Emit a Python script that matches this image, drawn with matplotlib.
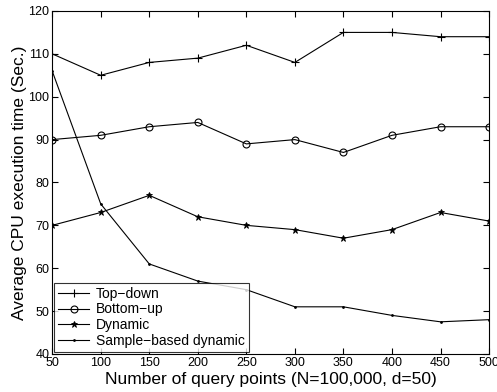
import matplotlib
matplotlib.use("Agg")
import matplotlib.pyplot as plt

x = [50, 100, 150, 200, 250, 300, 350, 400, 450, 500]
top_down = [110, 105, 108, 109, 112, 108, 115, 115, 114, 114]
bottom_up = [90, 91, 93, 94, 89, 90, 87, 91, 93, 93]
dynamic = [70, 73, 77, 72, 70, 69, 67, 69, 73, 71]
sample_dyn = [106, 75, 61, 57, 55, 51, 51, 49, 47.5, 48]

plt.rcParams['font.family'] = ['Liberation Sans', 'DejaVu Sans']

fig = plt.figure(figsize=(4.97, 3.92), dpi=100)
ax = fig.add_axes([0.105, 0.097, 0.879, 0.875])

ax.plot(x, top_down, color='black', lw=0.8, marker='+', ms=6, mew=0.8, label='Top\u2212down')
ax.plot(x, bottom_up, color='black', lw=0.8, marker='o', ms=5, mfc='none', mew=0.8, label='Bottom\u2212up')
ax.plot(x, dynamic, color='black', lw=0.8, marker='*', ms=4.5, mew=0.6, label='Dynamic')
ax.plot(x, sample_dyn, color='black', lw=0.8, marker='.', ms=2, label='Sample\u2212based dynamic')

ax.set_xlim(50, 500)
ax.set_ylim(40, 120)
ax.set_xticks(x)
ax.set_yticks(range(40, 121, 10))
ax.tick_params(direction='in', top=True, right=True, labelsize=9, length=4, width=0.8, pad=2)
for s in ax.spines.values():
    s.set_linewidth(0.8)

ax.set_xlabel('Number of query points (N=100,000, d=50)', fontsize=12.5, labelpad=2.5)
ax.set_ylabel('Average CPU execution time (Sec.)', fontsize=12.5, labelpad=1)

leg = ax.legend(loc='lower left', fontsize=10, frameon=True, fancybox=False,
                edgecolor='black', borderaxespad=0.15, handlelength=2.2,
                labelspacing=0.12, borderpad=0.3, handletextpad=0.5)
leg.get_frame().set_linewidth(0.8)

fig.savefig('out.png', dpi=100)
